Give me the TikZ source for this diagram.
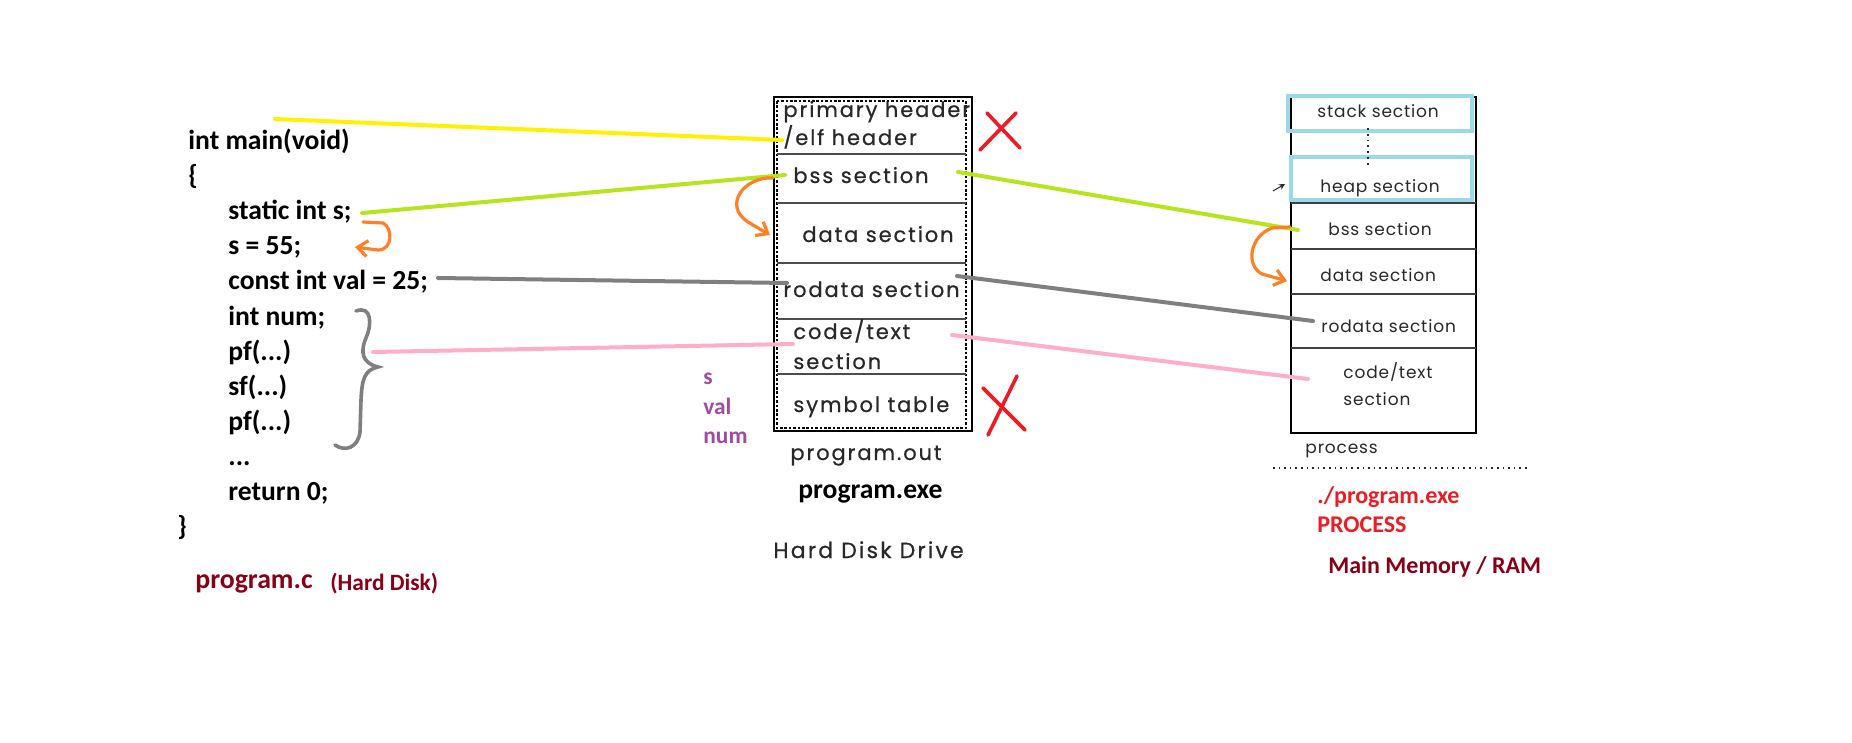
\documentclass[tikz,border=0pt]{standalone}
\usepackage{fontspec}
\setmainfont{Carlito}
\newfontfamily\gothic{Poppins}[LetterSpace=9,FakeBold=0.6]
\newfontfamily\gothicw{Poppins}[LetterSpace=10,FakeBold=0.6]
\newfontfamily\gothicr{Poppins}[LetterSpace=5]
\usetikzlibrary{arrows.meta}
\definecolor{pyellow}{RGB}{255,242,0}
\definecolor{plime}{RGB}{181,230,29}
\definecolor{porange}{RGB}{255,127,39}
\definecolor{pgray}{RGB}{127,127,127}
\definecolor{ppink}{RGB}{255,174,201}
\definecolor{pred}{RGB}{237,28,36}
\definecolor{ppurple}{RGB}{163,73,164}
\definecolor{pblue}{RGB}{153,217,234}
\definecolor{pmaroon}{RGB}{136,0,21}
\definecolor{ink}{RGB}{40,40,40}
\newcommand\tridots{...}

\begin{document}
\begin{tikzpicture}[x=0.5pt,y=-0.5pt,
  code/.style={anchor=base west, inner sep=0pt, font=\fontsize{13.8}{16}\selectfont\bfseries},
  lbl/.style={anchor=base west, inner sep=0pt, font=\fontsize{12}{14}\selectfont\bfseries},
  purp/.style={anchor=base west, inner sep=0pt, text=ppurple, font=\fontsize{11.7}{14}\selectfont\bfseries},
  sec/.style={anchor=base west, inner sep=0pt, text=ink, font=\gothic\fontsize{10.5}{13}\selectfont},
  rsec/.style={anchor=base west, inner sep=0pt, text=ink, font=\gothicr\fontsize{8.5}{10}\selectfont},
  lnk/.style={line width=2pt, line cap=round},
  hook/.style={line width=1.6pt, porange, line cap=round, -{Straight Barb[length=5pt,width=8pt]}},
  cross/.style={line width=1.8pt, pred, line cap=round}]
\useasboundingbox (0,0) rectangle (1852,743);

% source file
\foreach \i/\x/\t in {0/188/int main(void), 1/188/\{, 2/228/static int s;, 3/228/s = 55;,
  4/228/const int val = 25;, 5/228/int num;, 6/228/pf(\tridots), 7/228/sf(\tridots), 8/228/pf(\tridots),
  9/228/\tridots, 10/228/return 0;, 11/177/\}}{
  \node[code] (c\i) at (\x,150+35*\i) {\t};
}
\node[lbl, text=pmaroon, font=\fontsize{13.9}{16}\selectfont\bfseries] (srcname) at (195,588) {program.c};
\node[lbl, text=pmaroon, font=\fontsize{11.7}{14}\selectfont\bfseries] (srcdisk) at (330,590) {(Hard Disk)};

\node[purp] (ps) at (703,384) {s};
\node[purp] (pval) at (703,414) {val};
\node[purp] (pnum) at (703,443) {num};

% executable on disk
\draw[line width=1.25pt] (774,97) rectangle (972,431);
\draw[line width=1pt, dash pattern=on 1.3pt off 0.9pt] (777,101) rectangle (966,428);
\foreach \y in {154,203,263,319,374}
  \draw[line width=0.6pt, black!70] (777,\y) -- (966,\y);
\node[sec] (mh1) at (783,117) {primary header};
\node[sec] (mh2) at (783,145) {/elf header};
\node[sec] (mbss) at (793,183) {bss section};
\node[sec] (mdata) at (802,242) {data section};
\node[sec] (mro) at (783,297) {rodata section};
\node[sec] (mcode) at (793,339) {code/text};
\node[sec] (mcode2) at (793,369) {section};
\node[sec] (msym) at (793,412) {symbol table};
\node[sec] (mout) at (790,460) {program.out};
\node[code] (mexe) at (798,498) {program.exe};
\node[sec, font=\gothicw\fontsize{11}{13}\selectfont] (mhdd) at (773,558) {Hard Disk Drive};

\draw[cross] (980,150) -- (1016,113);
\draw[cross] (987,113) -- (1020,148);
\draw[cross] (1017,376) -- (988,435);
\draw[cross] (983,388) -- (1025,430);

% process in RAM
\draw[line width=0.9pt] (1291,97) rectangle (1476,433);
\foreach \y in {203,249,294,348}
  \draw[line width=0.6pt, black!75] (1291,\y) -- (1476,\y);
\draw[line width=2pt, pblue] (1288,96) rectangle (1472,131);
\draw[line width=2pt, pblue] (1291,157) rectangle (1472,200);
\draw[line width=0.9pt, dotted, ink] (1368,128) -- (1368,168);
\node[rsec] (rstack) at (1317,118) {stack section};
\node[rsec] (rheap) at (1320,193) {heap section};
\node[rsec] (rbss) at (1328,235) {bss section};
\node[rsec] (rdata) at (1320,282) {data section};
\node[rsec] (rro) at (1321,332) {rodata section};
\node[rsec] (rcode) at (1343,378) {code/text};
\node[rsec] (rcode2) at (1343,405) {section};
\node[rsec] (rproc) at (1305,453) {process};
\coordinate (growA) at (1273,191);
\coordinate (growB) at (1285,184);
\draw[-{Stealth[length=3pt,width=3pt]}, line width=0.5pt, ink] (growA) -- (growB);
\draw[line width=0.8pt, dotted, ink] (1273,468) -- (1527,468);
\node[lbl, text=pred] (rexe) at (1317,503) {./program.exe};
\node[lbl, text=pred] (rprc) at (1317,532) {PROCESS};
\node[lbl, text=pmaroon] (ram) at (1328,573) {Main Memory / RAM};

% links
\coordinate (yS) at (275,119);
\coordinate (yE) at (782,140);
\coordinate (gS) at (362,213);
\coordinate (gM) at (785,175);
\coordinate (gM2) at (958,172);
\coordinate (gE) at (1298,230);
\coordinate (kS) at (438,278);
\coordinate (kM) at (787,283);
\coordinate (kM2) at (957,276);
\coordinate (kE) at (1313,321);
\coordinate (pS) at (373,352);
\coordinate (pM) at (793,344);
\coordinate (pM2) at (952,335);
\coordinate (pE) at (1308,379);
\draw[lnk, pyellow] (yS) -- (yE);
\draw[lnk, plime] (gS) -- (gM);
\draw[lnk, plime] (gM2) -- (gE);
\draw[lnk, pgray] (kS) -- (kM);
\draw[lnk, pgray] (kM2) -- (kE);
\draw[lnk, ppink] (pS) -- (pM);
\draw[lnk, ppink] (pM2) -- (pE);

% bss -> data hooks
\draw[hook] (363,222) -- (383,223) .. controls (393,228) and (393,250) .. (378,250) -- (355,247);
\draw[hook] (773,178) .. controls (745,176) and (722,205) .. (748,222) -- (770,235);
\draw[hook] (1290,227) -- (1272,228) .. controls (1250,236) and (1245,265) .. (1262,274) -- (1287,281);

% brace
\draw[line width=1.8pt, pgray, line cap=round] (356,311) .. controls (372,305) and (372,325) .. (366,338)
  .. controls (360,352) and (362,363) .. (378,367) .. controls (364,370) and (362,380) .. (361,400)
  -- (360,432) .. controls (358,448) and (345,452) .. (335,445);
\end{tikzpicture}
\end{document}
